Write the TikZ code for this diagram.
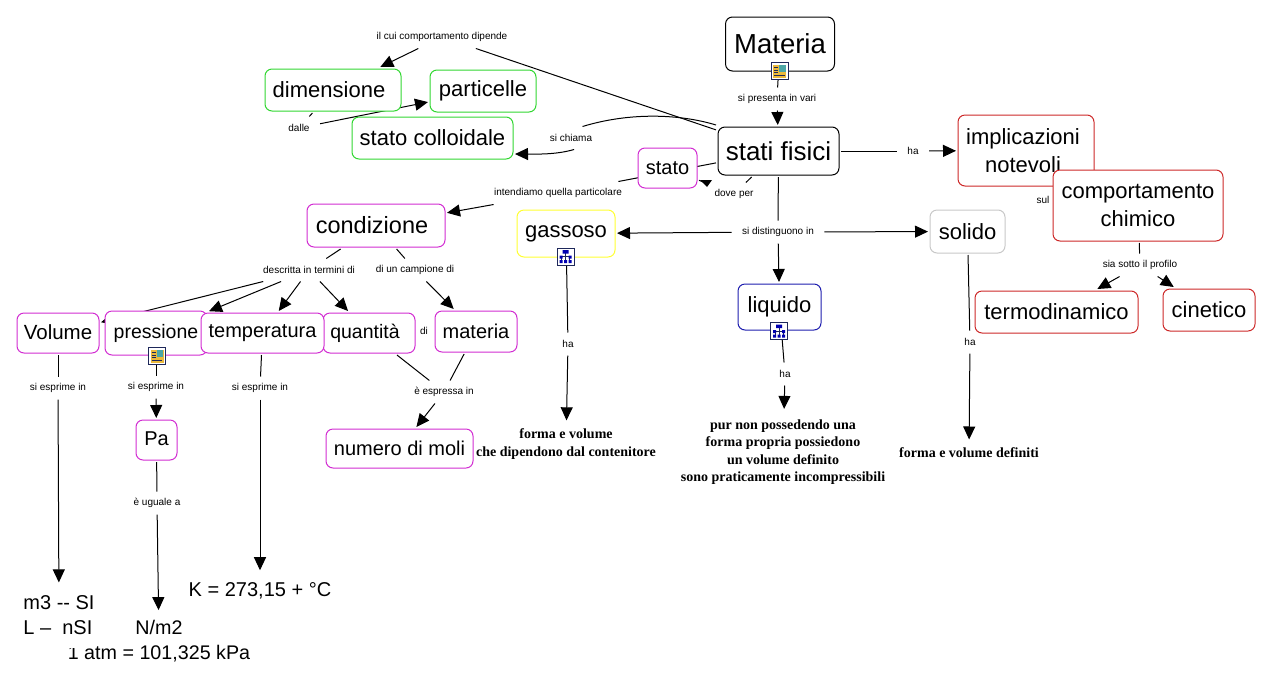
\documentclass[tikz,border=0pt]{standalone}
\usepackage{fontspec}
\setmainfont{Liberation Sans}
\newfontfamily\boldserif{Liberation Serif}
\usetikzlibrary{arrows.meta,backgrounds}
\definecolor{fgreen}{RGB}{50,215,50}
\definecolor{fmagenta}{RGB}{210,45,210}
\definecolor{fyellow}{RGB}{255,255,51}
\definecolor{fblue}{RGB}{30,30,175}
\definecolor{fgray}{RGB}{200,200,200}
\definecolor{fred}{RGB}{205,40,40}
\definecolor{iconblue}{RGB}{30,40,90}
\definecolor{iconorange}{RGB}{235,185,60}
\tikzset{
  >={Triangle[length=13pt,width=12pt]},
  every path/.style={line width=1pt},
  concept/.style={draw,fill=white,rounded corners=7pt,align=center,inner sep=0pt,outer sep=2pt,
    font=\fontsize{22}{27}\selectfont},
  linkword/.style={inner xsep=10pt,inner ysep=0pt,minimum height=22pt,yshift=-1pt,font=\fontsize{10}{12}\selectfont},
  statement/.style={align=center,inner xsep=1pt,font=\boldserif\bfseries\fontsize{14}{17.5}\selectfont},
  measure/.style={align=center,inner xsep=1pt,font=\fontsize{20}{25}\selectfont},
  noteicon/.pic={
    \draw[iconblue,fill=white] (-8.5,-8.5) rectangle (8.5,8.5);
    \fill[iconorange] (-6.5,-6.5) rectangle (6.5,6.5);
    \fill[teal!70!white] (-0.5,-6) rectangle (6,1);
    \draw[iconblue,line width=.7pt] (-5.5,-3.5) -- (-1.5,-3.5) (-5.5,-1) -- (-1.5,-1) (-5.5,1.5) -- (-1.5,1.5) (-5.5,4) -- (5,4);
  },
  treeicon/.pic={
    \draw[iconblue,fill=white] (-8.5,-8.5) rectangle (8.5,8.5);
    \draw[iconblue,line width=.7pt] (0,-4) -- (0,4) (-4,5) -- (-4,0) -- (4,0) -- (4,5);
    \fill[blue!70!black] (-3,-6.5) rectangle (3,-3) (-6,-1) rectangle (-3,2) (3,-1) rectangle (6,2)
      (-6,3.5) rectangle (-3,6.5) (-1.5,3.5) rectangle (1.5,6.5) (3,3.5) rectangle (6,6.5);
  }
}
\begin{document}
\begin{tikzpicture}[x=1pt,y=-1pt]
\useasboundingbox (0,0) rectangle (1269,689);
  \node[concept,minimum width=109pt,minimum height=54pt,font=\fontsize{27.5}{32}\selectfont] (materia) at (780,44) {\raisebox{1pt}{Materia}};
  \node[concept,minimum width=121pt,minimum height=48pt,font=\fontsize{26}{30}\selectfont] (statifisici) at (778.5,151) {stati fisici};
  \node[concept,draw=fgreen,minimum width=136pt,minimum height=42pt] (dimensione) at (333,90) {dimensione\hspace{8pt}};
  \node[concept,draw=fgreen,minimum width=106pt,minimum height=42pt] (particelle) at (483,91) {particelle};
  \node[concept,draw=fgreen,minimum width=161pt,minimum height=42pt] (colloidale) at (432.5,138) {stato colloidale};
  \node[concept,draw=fmagenta,minimum width=59pt,minimum height=40pt,font=\fontsize{20}{24}\selectfont] (stato) at (667.5,168) {stato};
  \node[concept,draw=fmagenta,minimum width=138pt,minimum height=43pt,font=\fontsize{23.5}{28}\selectfont] (condizione) at (376,225.5) {condizione\hspace{8pt}};
  \node[concept,draw=fmagenta,minimum width=82pt,minimum height=40pt,font=\fontsize{20.5}{24}\selectfont] (volume) at (58,333) {\raisebox{1pt}{Volume}};
  \node[concept,draw=fmagenta,minimum width=102pt,minimum height=44pt,font=\fontsize{19.5}{24}\selectfont] (pressione) at (156,333) {\raisebox{2pt}{pressione}};
  \node[concept,draw=fmagenta,minimum width=92pt,minimum height=40pt,font=\fontsize{19.5}{24}\selectfont] (quantita) at (369,333) {\raisebox{2pt}{quantità}\hspace{8pt}};
  \node[concept,draw=fmagenta,minimum width=123pt,minimum height=40pt,font=\fontsize{20}{24}\selectfont] (temperatura) at (262.5,333) {\raisebox{1pt}{temperatura}};
  \node[concept,draw=fmagenta,minimum width=82pt,minimum height=41pt,font=\fontsize{20}{24}\selectfont] (materiaB) at (476,331.5) {materia};
  \node[concept,draw=fmagenta,minimum width=41pt,minimum height=40pt,font=\fontsize{20}{24}\selectfont] (pa) at (156.5,440) {\raisebox{2pt}{Pa}};
  \node[concept,draw=fmagenta,minimum width=147pt,minimum height=39pt,font=\fontsize{20}{24}\selectfont] (moli) at (399.5,448.5) {numero di moli};
  \node[concept,draw=fyellow,minimum width=98pt,minimum height=47pt] (gassoso) at (566,233.5) {\raisebox{3pt}{gassoso}};
  \node[concept,draw=fblue,minimum width=83pt,minimum height=46pt] (liquido) at (779.5,307) {\raisebox{3pt}{liquido}};
  \node[concept,draw=fgray,minimum width=75pt,minimum height=43pt] (solido) at (967.5,231.5) {solido};
  \node[concept,draw=fred,minimum width=136pt,minimum height=71pt,font=\fontsize{22}{28}\selectfont] (implicazioni) at (1026,150.5) {implicazioni\hspace*{6pt}\\notevoli\hspace*{6pt}};
  \node[concept,draw=fred,minimum width=170pt,minimum height=71pt,font=\fontsize{22}{27.5}\selectfont] (comportamento) at (1138,205.5) {comportamento\\chimico};
  \node[concept,draw=fred,minimum width=163pt,minimum height=42pt] (termodinamico) at (1056.5,312) {termodinamico};
  \node[concept,draw=fred,minimum width=92pt,minimum height=42pt] (cinetico) at (1209,310) {cinetico};

  \pic at (779.5,71) {noteicon};
  \pic at (157,356) {noteicon};
  \pic at (565.5,256.5) {treeicon};
  \pic at (779,331) {treeicon};

  \node[linkword] (cui) at (442,36) {il cui comportamento dipende};
  \node[linkword] (dalle) at (299,127) {dalle};
  \node[linkword] (chiama) at (571,137) {si chiama};
  \node[linkword] (presenta) at (777,98) {si presenta in vari};
  \node[linkword] (intendiamo) at (558,192) {intendiamo quella particolare};
  \node[linkword] (doveper) at (734,193) {dove per};
  \node[linkword] (haimpl) at (913,150) {ha};
  \node[linkword] (sul) at (1043,199) {sul};
  \node[linkword] (distinguono) at (778,231) {si distinguono in};
  \node[linkword] (profilo) at (1140,264) {sia sotto il profilo};
  \node[linkword] (descritta) at (309,269) {descritta in termini di};
  \node[linkword] (campione) at (415,269) {di un campione di};
  \node[linkword] (di) at (424,330) {di};
  \node[linkword] (esprimeV) at (58,387) {si esprime in};
  \node[linkword] (esprimeP) at (156,386) {si esprime in};
  \node[linkword] (esprimeT) at (260,387) {si esprime in};
  \node[linkword] (espressa) at (444,391) {è espressa in};
  \node[linkword] (uguale) at (157,502) {è uguale a};
  \node[linkword] (hagas) at (568,343) {ha};
  \node[linkword] (haliq) at (785,373) {ha};
  \node[linkword] (hasol) at (970,341) {ha};

  \node[statement,inner ysep=8pt] (formaG) at (566,444) {forma e volume\\che dipendono dal contenitore};
  \node[statement,inner ysep=10pt] (formaL) at (783,452) {pur non possedendo una\\forma propria possiedono\\un volume definito\\sono praticamente incompressibili};
  \node[statement,inner ysep=8pt] (formaS) at (969,453) {forma e volume definiti};
  \node[measure,inner ysep=12pt] (kelvin) at (260,591) {K = 273,15 + °C};
  \node[measure,inner ysep=10pt,font=\fontsize{19.7}{25}\selectfont] (nm) at (159,641.5) {N/m2\\1 atm = 101,325 kPa};
  \node[measure,align=left,fill=white,inner ysep=13pt] (mcubi) at (59,615.5) {m3 -{}- SI\\L --\ \ nSI};

  \begin{pgfonlayer}{background}
  \draw (materia) -- (presenta);
  \draw[->] (presenta) -- (statifisici);
  \draw (statifisici) -- (cui);
  \draw[->] (cui) -- (dimensione);
  \draw (dimensione) -- (dalle);
  \draw[->] (dalle) -- (particelle);
  \draw (statifisici.north west) .. controls (680,114) and (630,112) .. (chiama.45);
  \draw[->] (chiama.-75) .. controls (555,155) and (535,154) .. (colloidale.-11);
  \draw (statifisici) -- (intendiamo);
  \draw[->] (intendiamo) -- (condizione);
  \draw (statifisici) -- (doveper);
  \draw (doveper) -- (stato);
  \fill (700,180) -- (712,180) -- (707,187) -- cycle;
  \draw (statifisici) -- (haimpl);
  \draw[->] (haimpl) -- (implicazioni);
  \draw (statifisici) -- (distinguono);
  \draw[->] (distinguono) -- (gassoso);
  \draw[->] (distinguono) -- (liquido);
  \draw[->] (distinguono) -- (solido);
  \draw (comportamento) -- (profilo);
  \draw[->] (profilo) -- (termodinamico);
  \draw[->] (profilo) -- (cinetico);
  \draw (condizione) -- (descritta);
  \draw[->] (descritta) -- (volume);
  \draw[->] (descritta) -- (pressione);
  \draw[->] (descritta) -- (temperatura);
  \draw[->] (descritta) -- (quantita);
  \draw (condizione) -- (campione);
  \draw[->] (campione) -- (materiaB);
  \draw (quantita) -- (espressa);
  \draw (materiaB) -- (espressa);
  \draw[->] (espressa) -- (moli);
  \draw (volume) -- (esprimeV);
  \draw[->] (esprimeV) -- (mcubi);
  \draw (pressione) -- (esprimeP);
  \draw[->] (esprimeP) -- (pa);
  \draw (pa) -- (uguale);
  \draw[->] (uguale) -- (nm);
  \draw (temperatura) -- (esprimeT);
  \draw[->] (esprimeT) -- (kelvin);
  \draw (gassoso) -- (hagas);
  \draw[->] (hagas) -- (formaG);
  \draw (liquido) -- (haliq);
  \draw[->] (haliq) -- (formaL);
  \draw (solido) -- (hasol);
  \draw[->] (hasol) -- (formaS);
  \end{pgfonlayer}
\end{tikzpicture}
\end{document}
